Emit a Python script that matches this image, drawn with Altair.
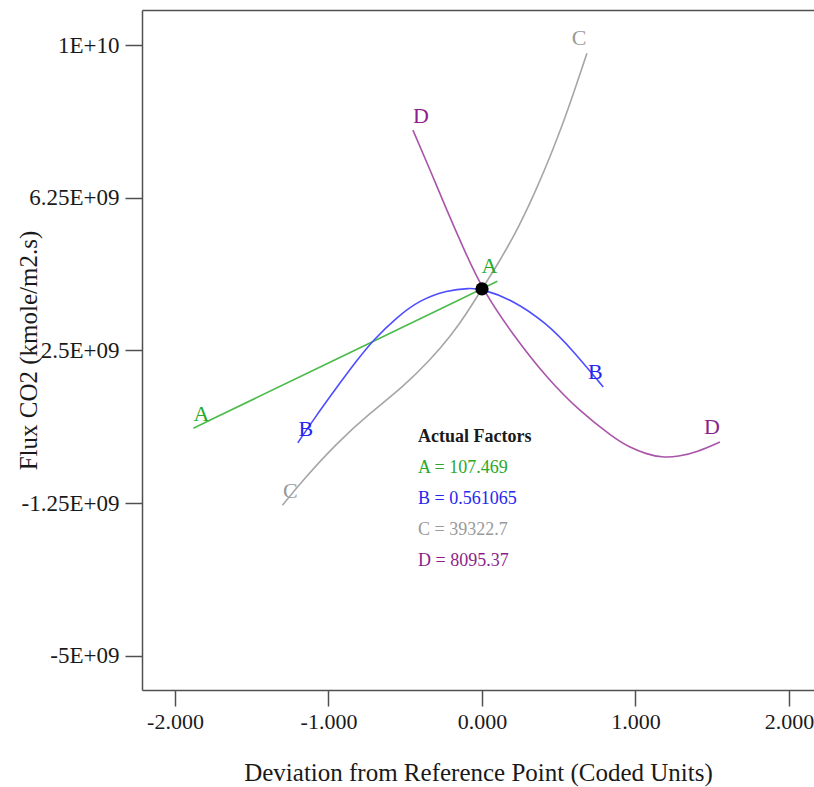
import altair as alt
import pandas as pd

# ---- data ----
factors = ["A", "B", "C", "D"]

A_x = [-1.88, -1.00, 0.00, 0.10]
A_y = [0.59e9, 2.19e9, 4.01e9, 4.20e9]

B_x = [-1.20, -1.10, -0.945, -0.814, -0.71, -0.554, -0.404, -0.228, -0.08, 0.00, 0.20, 0.42, 0.59, 0.79]
B_y = [0.23e9, 0.79e9, 1.60e9, 2.26e9, 2.75e9, 3.32e9, 3.74e9, 3.98e9, 4.03e9, 4.01e9, 3.74e9, 3.17e9, 2.51e9, 1.60e9]

C_x = [-1.30, -1.166, -0.945, -0.73, -0.515, -0.339, -0.208, -0.098, 0.00, 0.117, 0.248, 0.358, 0.443, 0.521, 0.586, 0.684]
C_y = [-1.30e9, -0.68e9, 0.23e9, 0.96e9, 1.60e9, 2.26e9, 2.83e9, 3.42e9, 4.01e9, 4.70e9, 5.59e9, 6.49e9, 7.25e9, 8.01e9, 8.70e9, 9.80e9]

D_x = [-0.45, -0.34, -0.23, -0.12, 0.00, 0.202, 0.423, 0.638, 0.853, 0.96, 1.075, 1.17, 1.28, 1.40, 1.55]
D_y = [7.91e9, 6.95e9, 5.95e9, 5.00e9, 4.01e9, 2.88e9, 1.82e9, 1.00e9, 0.37e9, 0.12e9, -0.05e9, -0.13e9, -0.11e9, 0.00e9, 0.25e9]

ref_x = [0.0]
ref_y = [4.01e9]

actual_title = "Actual Factors"
actual_names = ["A", "B", "C", "D"]
actual_values = ["107.469", "0.561065", "39322.7", "8095.37"]

x_ticks = [-2, -1, 0, 1, 2]
x_tick_labels = ["-2.000", "-1.000", "0.000", "1.000", "2.000"]
y_ticks = [-5e9, -1.25e9, 2.5e9, 6.25e9, 1e10]
y_tick_labels = ["-5E+09", "-1.25E+09", "2.5E+09", "6.25E+09", "1E+10"]

x_title = "Deviation from Reference Point (Coded Units)"
y_title = "Flux CO2 (kmole/m2.s)"

# ---- styles ----
FONT = "Liberation Serif"
AX = "#505050"
TXT = "#1a1a1a"
line_colors = {"A": "#4cbb4c", "B": "#4d4dff", "C": "#a6a6a6", "D": "#aa55aa"}
label_colors = {"A": "#2aa82a", "B": "#2626f0", "C": "#9a9a9a", "D": "#8c1f8c"}

series = {"A": (A_x, A_y), "B": (B_x, B_y), "C": (C_x, C_y), "D": (D_x, D_y)}

rows = []
for f in factors:
    xs, ys = series[f]
    for xv, yv in zip(xs, ys):
        rows.append({"factor": f, "x": xv, "y": yv, "lc": line_colors[f]})
lines_df = pd.DataFrame(rows)

starts = pd.DataFrame([{"factor": f, "x": series[f][0][0], "y": series[f][1][0],
                        "tc": label_colors[f]} for f in factors])
ends = pd.DataFrame([{"factor": f, "x": series[f][0][-1], "y": series[f][1][-1],
                      "tc": label_colors[f]} for f in factors])
ref_df = pd.DataFrame({"x": ref_x, "y": ref_y})

ann_x = -0.417
ann_y0 = 0.373e9
ann_step = 0.76e9
ann_title_df = pd.DataFrame([{"x": ann_x, "y": ann_y0, "t": actual_title}])
ann_df = pd.DataFrame([{"x": ann_x, "y": ann_y0 - (i + 1) * ann_step,
                        "t": f"{n} = {v}", "tc": label_colors[n]}
                       for i, (n, v) in enumerate(zip(actual_names, actual_values))])


def label_expr(vals, labs, tol):
    e = "''"
    for v, l in reversed(list(zip(vals, labs))):
        e = f"abs(datum.value - ({float(v)!r})) < {tol} ? '{l}' : ({e})"
    return e


xscale = alt.Scale(domain=[-2.215, 2.163], nice=False, zero=False)
yscale = alt.Scale(domain=[-5.84e9, 1.086e10], nice=False, zero=False)

x_axis = alt.Axis(values=x_ticks, labelExpr=label_expr(x_ticks, x_tick_labels, 1e-6),
                  grid=False, domain=True, domainColor=AX, domainWidth=1.5,
                  ticks=True, tickSize=16, tickColor=AX, tickWidth=1.5,
                  labelFont=FONT, labelFontSize=22, labelColor=TXT, labelPadding=5,
                  title=x_title, titleFont=FONT, titleFontSize=25, titleFontWeight="normal",
                  titleColor=TXT, titleBaseline="alphabetic", titleY=90)
y_axis = alt.Axis(values=y_ticks, labelExpr=label_expr(y_ticks, y_tick_labels, 1.0),
                  grid=False, domain=True, domainColor=AX, domainWidth=1.5,
                  ticks=True, tickSize=17, tickColor=AX, tickWidth=1.5,
                  labelFont=FONT, labelFontSize=23, labelColor=TXT, labelPadding=6,
                  title=y_title, titleFont=FONT, titleFontSize=25, titleFontWeight="normal",
                  titleColor=TXT, titleAngle=270, titleBaseline="alphabetic", titleX=-106)

X = alt.X("x:Q", scale=xscale, axis=x_axis)
Y = alt.Y("y:Q", scale=yscale, axis=y_axis)
Xn = alt.X("x:Q", scale=xscale, axis=None)

lines = alt.Chart(lines_df).mark_line(interpolate="basis", strokeWidth=1.6).encode(
    x=X, y=Y, color=alt.Color("lc:N", scale=None), detail="factor:N", order="x:Q")

start_lbl = alt.Chart(starts).mark_text(font=FONT, fontSize=22, dx=8, dy=-14,
                                        align="center", baseline="middle").encode(
    x=Xn, y="y:Q", text="factor:N", color=alt.Color("tc:N", scale=None))
end_lbl = alt.Chart(ends).mark_text(font=FONT, fontSize=22, dx=-8, dy=-15,
                                    align="center", baseline="middle").encode(
    x=Xn, y="y:Q", text="factor:N", color=alt.Color("tc:N", scale=None))

ref_pt = alt.Chart(ref_df).mark_circle(size=175, color="black", opacity=1).encode(
    x=alt.X("x:Q", scale=xscale,
            axis=alt.Axis(orient="top", labels=False, ticks=False, title=None, grid=False,
                          domain=True, domainColor=AX, domainWidth=1.5)),
    y="y:Q")

ann_title = alt.Chart(ann_title_df).mark_text(font=FONT, fontSize=18, fontWeight="bold",
                                              align="left", baseline="middle", color=TXT).encode(
    x=Xn, y="y:Q", text="t:N")
ann = alt.Chart(ann_df).mark_text(font=FONT, fontSize=18, align="left", baseline="middle").encode(
    x=Xn, y="y:Q", text="t:N", color=alt.Color("tc:N", scale=None))

chart = alt.layer(lines, ref_pt, start_lbl, end_lbl, ann_title, ann).resolve_axis(
    x="independent"
).properties(
    width=672, height=680,
    padding={"left": 142, "top": 10, "right": 0, "bottom": 97},
    autosize=alt.AutoSizeParams(type="none"),
    background="white",
).configure_view(stroke=None)

chart.save("out.html", embed_options={"renderer": "svg", "actions": False})
